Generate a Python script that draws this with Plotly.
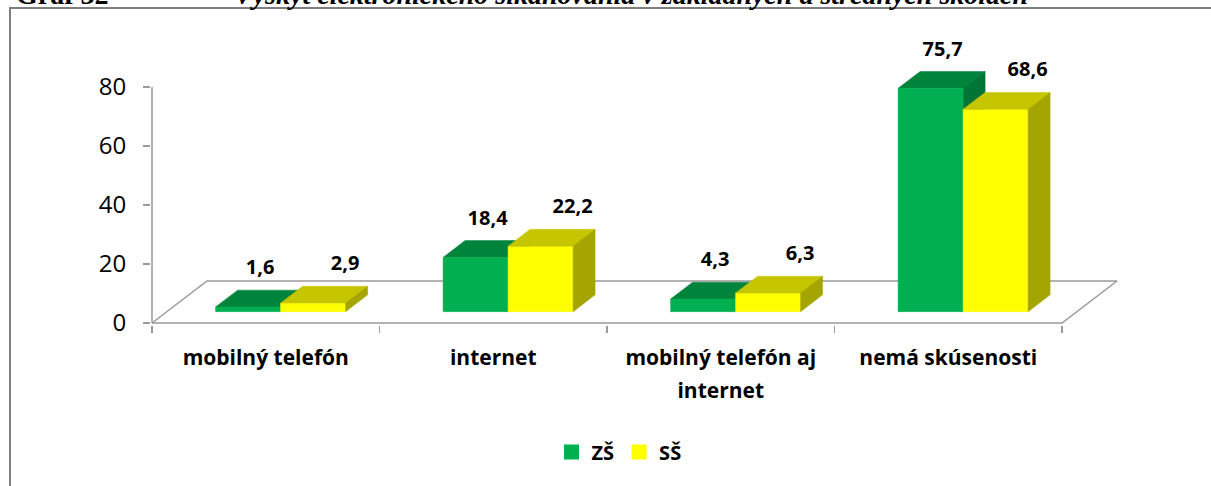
import plotly.graph_objects as go

# ---------------- data ----------------
category_lines = [["mobilný telefón"], ["internet"], ["mobilný telefón aj", "internet"], ["nemá skúsenosti"]]
zs_values = [1.6, 18.4, 4.3, 75.7]
ss_values = [2.9, 22.2, 6.3, 68.6]
series_names = ["ZŠ", "SŠ"]
y_ticks = [0, 20, 40, 60, 80]
title_label = "Graf 32"
title_text = "Výskyt elektronického šikanovania v základných a stredných školách"

# ---------------- geometry / style ----------------
W, H = 1211, 486
ML, MR, MT, MB = 151, 71, 30, 161
plot_w = W - ML - MR
plot_h = H - MT - MB
X0_PX, Y0_PX = 152, 323          # pixel of data origin
PX_X, PX_Y = 227.5, 2.95          # pixels per unit
x_range = [(ML - X0_PX) / PX_X, (ML + plot_w - X0_PX) / PX_X]
y_range = [(Y0_PX - (MT + plot_h)) / PX_Y, (Y0_PX - MT) / PX_Y]

DX, DY = 55 / PX_X, 42 / PX_Y     # floor depth in data units
F0, F1 = 0.27, 0.67               # bar depth (front/back) as fraction of floor
BAR_W = 0.2857
GRAY = "#9a9a9a"
FONT = "Open Sans"

colors = {
    "ZŠ": dict(front="#00B050", top="#00843C", side="#007535"),
    "SŠ": dict(front="#FFFF00", top="#C6C600", side="#A5A500"),
}


def px2paper_x(px):
    return (px - ML) / plot_w


def px2paper_y(py):
    return (MT + plot_h - py) / plot_h


fig = go.Figure()
n = len(category_lines)

# floor
fig.add_trace(go.Scatter(
    x=[0, n, n + DX, DX, 0], y=[0, 0, DY, DY, 0],
    mode="lines", fill="toself", fillcolor="white",
    line=dict(color=GRAY, width=1.5), hoverinfo="skip", showlegend=False))

# vertical axis line
fig.add_trace(go.Scatter(
    x=[0, 0], y=[y_ticks[0], y_ticks[-1]], mode="lines",
    line=dict(color=GRAY, width=1.5), hoverinfo="skip", showlegend=False))


def faces(values, offset):
    ox, oy = F0 * DX, F0 * DY
    bx, by = F1 * DX, F1 * DY
    fx, fy, tx, ty, sx, sy = [], [], [], [], [], []
    for i, v in enumerate(values):
        xl = i + 0.5 + offset
        xr = xl + BAR_W
        fx += [xl + ox, xr + ox, xr + ox, xl + ox, xl + ox, None]
        fy += [oy, oy, oy + v, oy + v, oy, None]
        tx += [xl + ox, xr + ox, xr + bx, xl + bx, xl + ox, None]
        ty += [oy + v, oy + v, by + v, by + v, oy + v, None]
        sx += [xr + ox, xr + bx, xr + bx, xr + ox, xr + ox, None]
        sy += [oy, by, by + v, oy + v, oy, None]
    return (fx, fy), (tx, ty), (sx, sy)


def poly(xy, color):
    return go.Scatter(x=xy[0], y=xy[1], mode="lines", fill="toself",
                      fillcolor=color, line=dict(color=color, width=0.5),
                      hoverinfo="skip", showlegend=False)


zs_f, zs_t, zs_s = faces(zs_values, -BAR_W)
ss_f, ss_t, ss_s = faces(ss_values, 0.0)
c1, c2 = colors[series_names[0]], colors[series_names[1]]
fig.add_trace(poly(zs_t, c1["top"]))
fig.add_trace(poly(zs_s, c1["side"]))
fig.add_trace(poly(zs_f, c1["front"]))
fig.add_trace(poly(ss_f, c2["front"]))
fig.add_trace(poly(ss_t, c2["top"]))
fig.add_trace(poly(ss_s, c2["side"]))


# data labels
def label_trace(values, offset, dx_px):
    xs = [i + 0.5 + offset + BAR_W / 2 + F1 * DX + dx_px / PX_X for i in range(len(values))]
    ys = [v + F1 * DY + 21 / PX_Y for v in values]
    txt = [f"{v:.1f}".replace(".", ",") for v in values]
    return go.Scatter(x=xs, y=ys, text=txt, mode="text", cliponaxis=False,
                      textfont=dict(family=FONT, size=20, color="black", weight="bold"),
                      hoverinfo="skip", showlegend=False)


fig.add_trace(label_trace(zs_values, -BAR_W, -10))
fig.add_trace(label_trace(ss_values, 0.0, 10))

# legend entries
for name in series_names:
    fig.add_trace(go.Scatter(x=[None], y=[None], mode="markers", name=name,
                             marker=dict(symbol="square", size=15, color=colors[name]["front"])))

# category label axes (first and second text line)
fig.add_trace(go.Scatter(x=[0.5], y=[None], xaxis="x2", mode="markers",
                         hoverinfo="skip", showlegend=False))
fig.add_trace(go.Scatter(x=[0.5], y=[None], xaxis="x3", mode="markers",
                         hoverinfo="skip", showlegend=False))

line1_vals = [i + 0.5 for i in range(n)]
line1_text = [lines[0] for lines in category_lines]
line2_vals = [i + 0.5 for i, lines in enumerate(category_lines) if len(lines) > 1]
line2_text = [lines[1] for lines in category_lines if len(lines) > 1]
cat_font = dict(family=FONT, size=21, color="black", weight="bold")

fig.update_layout(
    width=W, height=H,
    margin=dict(l=ML, r=MR, t=MT, b=MB),
    paper_bgcolor="white", plot_bgcolor="rgba(0,0,0,0)",
    showlegend=True,
    legend=dict(orientation="h", x=px2paper_x(619), xanchor="center",
                y=px2paper_y(452), yanchor="middle",
                font=dict(family=FONT, size=20, color="black", weight="bold"),
                itemwidth=30, tracegroupgap=0),
    xaxis=dict(range=x_range, tickvals=list(range(n + 1)), ticktext=[""] * (n + 1),
               ticks="outside", ticklen=7, tickcolor=GRAY, tickwidth=1.5,
               showgrid=False, zeroline=False, showline=False, fixedrange=True),
    xaxis2=dict(range=x_range, overlaying="x", side="bottom", anchor="y",
                tickvals=line1_vals, ticktext=line1_text,
                ticks="", showgrid=False, zeroline=False, showline=False,
                tickfont=cat_font, ticklabelstandoff=18),
    xaxis3=dict(range=x_range, overlaying="x", side="bottom", anchor="y",
                tickvals=line2_vals, ticktext=line2_text,
                ticks="", showgrid=False, zeroline=False, showline=False,
                tickfont=cat_font, ticklabelstandoff=51),
    yaxis=dict(range=y_range, tickvals=y_ticks, ticks="outside", ticklen=7,
               tickcolor=GRAY, tickwidth=1.5, showgrid=False, zeroline=False,
               showline=False, ticklabelstandoff=12,
               tickfont=dict(family=FONT, size=24, color="black")),
    shapes=[dict(type="rect", xref="paper", yref="paper", layer="below",
                 x0=px2paper_x(10), x1=px2paper_x(1230),
                 y0=px2paper_y(8), y1=px2paper_y(520),
                 line=dict(color="#7f7f7f", width=2), fillcolor="rgba(0,0,0,0)")],
    annotations=[
        dict(text=f"<b>{title_label}</b>", xref="paper", yref="paper",
             x=px2paper_x(14), y=px2paper_y(12), xanchor="left", yanchor="bottom",
             showarrow=False, font=dict(family="Liberation Serif", size=28, color="black")),
        dict(text=f"<b><i>{title_text}</i></b>", xref="paper", yref="paper",
             x=px2paper_x(232), y=px2paper_y(12), xanchor="left", yanchor="bottom",
             showarrow=False, font=dict(family="Liberation Serif", size=28, color="black")),
    ],
)

fig.write_html(
    "out.html",
    config={"displayModeBar": False, "staticPlot": True},
    post_script="document.body.style.margin='0';document.body.style.overflow='hidden';"
                "document.documentElement.style.overflow='hidden';",
)
